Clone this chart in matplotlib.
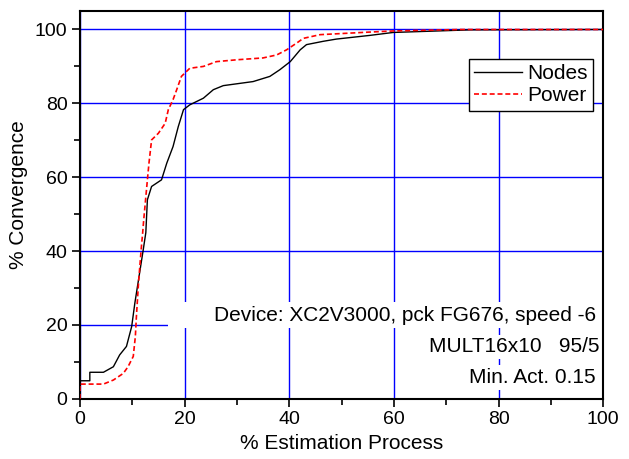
import numpy as np
import matplotlib
matplotlib.use("Agg")
import matplotlib.pyplot as plt
from matplotlib.ticker import MultipleLocator
from matplotlib.patches import Rectangle

plt.rcParams['font.family'] = ['Liberation Sans', 'DejaVu Sans']

# values
nodes_x = [0, 0, 1.9, 1.9, 4.5, 6.4, 7.6, 8.9, 9.9, 10.5, 11.5, 12.1, 12.6, 12.9, 13.7,
           15.6, 16.6, 17.8, 18.8, 19.8, 21.0, 23.6, 25.5, 27.4, 33.1, 36.3, 38.2, 40.2,
           42.1, 43.3, 46.5, 49.0, 55.4, 59.9, 74.6, 100]
nodes_y = [0, 4.9, 4.9, 7.2, 7.2, 8.7, 11.9, 14.2, 19.6, 25.9, 34.9, 40.3, 45.0, 53.9, 57.5,
           59.3, 63.8, 68.3, 73.7, 78.3, 79.6, 81.4, 83.7, 84.8, 85.9, 87.3, 89.1, 91.3,
           94.5, 95.9, 96.8, 97.4, 98.4, 99.2, 99.9, 100]

power_x = [0, 0, 4.5, 6.4, 8.3, 9.2, 10.2, 10.6, 10.8, 11.2, 11.7, 12.0, 12.2, 12.9, 13.2,
           13.7, 15.0, 16.3, 16.9, 17.8, 18.5, 19.4, 21.0, 23.6, 26.1, 30.0, 35.0, 37.6,
           39.5, 41.4, 42.7, 45.9, 55.4, 59.9, 72.7, 100]
power_y = [0, 4.0, 4.0, 5.1, 6.9, 8.7, 11.5, 16.9, 22.3, 31.3, 40.3, 45.0, 48.5, 59.3, 63.8,
           70.1, 71.9, 74.6, 78.3, 81.0, 83.7, 87.3, 89.5, 90.0, 91.3, 91.8, 92.3, 93.1,
           94.5, 96.3, 97.6, 98.6, 99.3, 99.6, 100, 100]

x_ticks = [0, 20, 40, 60, 80, 100]
y_ticks = [0, 20, 40, 60, 80, 100]

notes = ["Device: XC2V3000, pck FG676, speed -6",
         "MULT16x10   95/5",
         "Min. Act. 0.15"]

fig = plt.figure(figsize=(6.29, 4.59), dpi=100)
ax = fig.add_axes([0.127, 0.131, 0.832, 0.845])
ax.set_axisbelow(True)

ax.plot(nodes_x, nodes_y, color='black', lw=1.0, label='Nodes', zorder=3)
ax.plot(power_x, power_y, color='red', lw=1.2, ls=(0, (3, 1.7)), label='Power', zorder=3)

ax.set_xlim(0, 100)
ax.set_ylim(0, 105)
ax.set_xticks(x_ticks)
ax.set_yticks(y_ticks)
ax.xaxis.set_minor_locator(MultipleLocator(10))
ax.yaxis.set_minor_locator(MultipleLocator(10))
ax.tick_params(which='major', direction='out', length=6, width=1.2, labelsize=14, pad=3)
ax.tick_params(which='minor', direction='out', length=4, width=1.2)
ax.grid(True, which='major', color='#0000ff', lw=1.0)
for s in ax.spines.values():
    s.set_linewidth(1.5)

ax.set_xlabel('% Estimation Process', fontsize=15, labelpad=4)
ax.set_ylabel('% Convergence', fontsize=15)
ax.yaxis.set_label_coords(-0.099, 0.526)

leg = ax.legend(loc='upper right', bbox_to_anchor=(0.981, 0.876), borderaxespad=0,
                fontsize=15, fancybox=False, framealpha=1, edgecolor='black',
                handlelength=2.3, handletextpad=0.25, borderpad=0.25, labelspacing=0.15)
leg.get_frame().set_linewidth(1.0)

# white panel behind the device note, as in the reference
ax.add_patch(Rectangle((0.168, 0.183), 0.83, 0.067, transform=ax.transAxes,
                       facecolor='white', edgecolor='none', zorder=1.8))

note_pos = [(0.987, 0.216), (0.992, 0.134), (0.985, 0.055)]
for (tx, ty), txt in zip(note_pos, notes):
    ax.text(tx, ty, txt, transform=ax.transAxes, ha='right', va='center', fontsize=15,
            bbox=dict(facecolor='white', edgecolor='none', pad=2), zorder=2)

fig.savefig('out.png', dpi=100)
